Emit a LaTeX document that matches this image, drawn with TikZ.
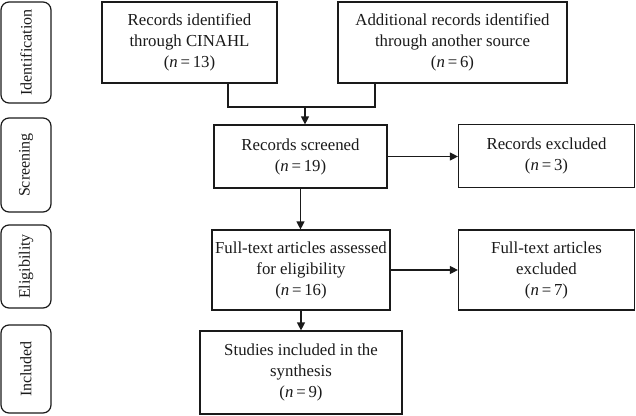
\documentclass[tikz,border=0pt]{standalone}
\usepackage{fontspec}
\setmainfont{Liberation Serif}
\usetikzlibrary{arrows.meta,positioning,calc}
\definecolor{ink}{HTML}{1A1A1A}
\newcommand{\nval}[1]{(\textit{n}\,=\,#1)}
\tikzset{
  flowbox/.style={draw=ink, line width=1.2pt, fill=white, inner sep=3pt,
                  align=center, text=ink, font=\fontsize{16.8}{21}\selectfont},
  phasebox/.style={draw=ink, line width=1.2pt, rounded corners=8pt, rotate=90,
                   inner sep=2pt, align=center, text=ink,
                   font=\fontsize{16}{18}\selectfont, minimum height=50pt},
  link/.style={line width=1.2pt, color=ink},
  arr/.style={-{Triangle[length=8pt,width=8pt]}, line width=1.2pt, color=ink}}

\begin{document}
\begin{tikzpicture}[x=1pt, y=-1pt]
    \useasboundingbox (0,0) rectangle (636,415);
    % phase labels down the left
    \node[phasebox, minimum width=101pt] (idn) at (26,52.5) {Identification};
    \node[phasebox, minimum width=94pt] (scr) at (26,165) {Screening};
    \node[phasebox, minimum width=83pt] (elg) at (26,266.5) {Eligibility};
    \node[phasebox, minimum width=88pt] (inc) at (26,369) {Included};
    % flow boxes
    \node[flowbox, minimum width=175pt, minimum height=81pt] (src1) at (189.5,42.5)
      {Records identified\\through CINAHL\\\nval{13}};
    \node[flowbox, minimum width=229pt, minimum height=81pt] (src2) at (452.5,42.5)
      {Additional records identified\\through another source\\\nval{6}};
    \node[flowbox, minimum width=173pt, minimum height=63pt] (screen) at (300.5,156.5)
      {Records screened\\\nval{19}};
    \node[flowbox, minimum width=176pt, minimum height=63pt] (excl1) at (546.5,156)
      {Records excluded\\\nval{3}};
    \node[flowbox, minimum width=178pt, minimum height=80pt] (fulltext) at (301,270)
      {Full-text articles assessed\\for eligibility\\\nval{16}};
    \node[flowbox, minimum width=176pt, minimum height=80pt] (excl2) at (546.5,270)
      {Full-text articles\\excluded\\\nval{7}};
    \node[flowbox, minimum width=202pt, minimum height=83pt] (incl) at (301,372.5)
      {Studies included in the\\synthesis\\\nval{9}};
    % connectors
    \coordinate (join) at (305,107);
    \draw[link] ([xshift=38.5pt]src1.south) |- (join) -| ([xshift=-77.5pt]src2.south);
    \draw[arr] (join) -- (join |- screen.north);
    \draw[arr] (screen.east) -- (excl1.west |- screen.east);
    \draw[arr] (screen.south) -- (screen.south |- fulltext.north);
    \draw[arr] (fulltext.east) -- (excl2.west |- fulltext.east);
    \draw[arr] (fulltext.south) -- (fulltext.south |- incl.north);
  \end{tikzpicture}
\end{document}
